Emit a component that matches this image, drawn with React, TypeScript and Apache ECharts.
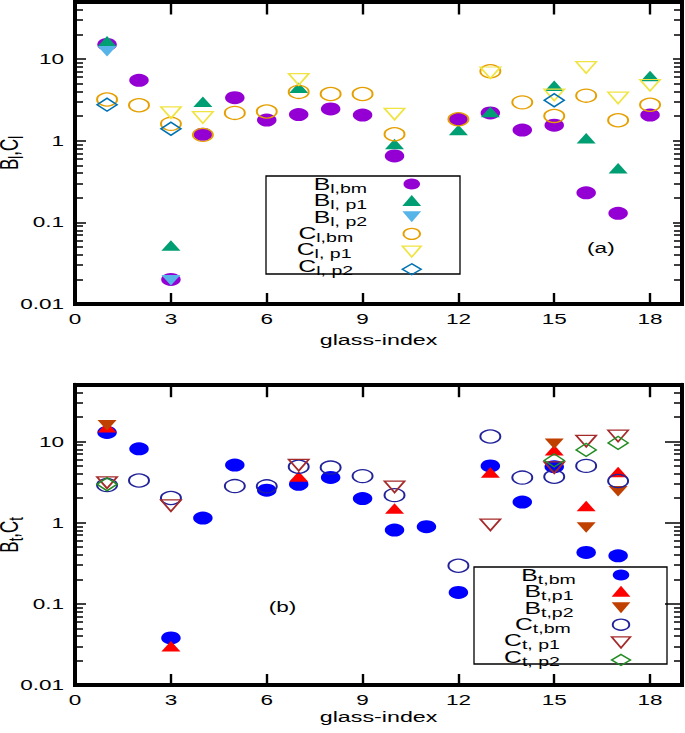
import React, { useEffect, useRef } from "react";
import * as echarts from "echarts";

// ---------------- data ----------------
const glassIndex = [1, 2, 3, 4, 5, 6, 7, 8, 9, 10, 11, 12, 13, 14, 15, 16, 17, 18];

const xTickValues = [0, 3, 6, 9, 12, 15, 18];
const xTickLabels = ["0", "3", "6", "9", "12", "15", "18"];
const yDecades = [0.01, 0.1, 1, 10];
const yTickLabels = ["0.01", "0.1", "1", "10"];
const yMinorTicks = [0.02, 0.03, 0.04, 0.05, 0.06, 0.07, 0.08, 0.09, 0.2, 0.3, 0.4, 0.5, 0.6, 0.7, 0.8, 0.9, 2, 3, 4, 5, 6, 7, 8, 9, 20, 30, 40];

// panel (a)
const Bl_bm = [15.1, 5.5, 0.02, 1.2, 3.36, 1.79, 2.09, 2.45, 2.06, 0.65, null, 1.83, 2.19, 1.35, 1.55, 0.23, 0.129, 2.06];
const Bl_p1 = [16.5, null, 0.052, 3.0, null, null, 4.45, null, null, 0.91, null, 1.35, 2.24, null, 4.7, 1.07, 0.46, 6.2];
const Bl_p2 = [12.5, null, 0.0195, null, null, null, null, null, null, null, null, null, null, null, null, null, null, null];
const Cl_bm = [3.2, 2.72, 1.61, 1.18, 2.19, 2.28, 3.96, 3.73, 3.73, 1.2, null, 1.83, 7.1, 2.95, 2.01, 3.56, 1.78, 2.76];
const Cl_p1 = [null, null, 2.21, 1.93, null, null, 5.65, null, null, 2.12, null, null, 6.8, null, 3.64, 7.9, 3.34, 4.78];
const Cl_p2 = [2.76, null, 1.4, null, null, null, null, null, null, null, null, null, null, null, 3.13, null, null, null];

// panel (b)
const Bt_bm = [12.9, 8.1, 0.038, 1.14, 5.12, 2.51, 2.97, 3.6, 1.98, 0.81, 0.89, 0.138, 4.99, 1.79, 4.88, 0.43, 0.39, null];
const Bt_p1 = [15.0, null, 0.03, null, null, null, 3.7, null, null, 1.49, null, null, 4.14, null, 7.8, 1.6, 4.2, null];
const Bt_p2 = [15.8, null, null, null, null, null, null, null, null, null, null, null, null, null, 9.4, 0.87, 2.43, null];
const Ct_bm = [2.9, 3.3, 2.01, null, 2.82, 2.8, 4.88, 4.77, 3.74, 2.18, null, 0.294, 11.5, 3.59, 3.67, 5.0, 3.26, null];
const Ct_p1 = [3.11, null, 1.62, null, null, null, 5.12, null, null, 2.76, null, null, 0.94, null, 4.77, 10.1, 11.7, null];
const Ct_p2 = [2.97, null, null, null, null, null, null, null, null, null, null, null, null, null, 5.84, 7.87, 9.6, null];

const namesA = ["B_l,bm", "B_l, p1", "B_l, p2", "C_l,bm", "C_l, p1", "C_l, p2"];
const namesB = ["B_t,bm", "B_t,p1", "B_t,p2", "C_t,bm", "C_t, p1", "C_t, p2"];
const mainA = ["B", "B", "B", "C", "C", "C"];
const subA = ["l,bm", "l, p1", "l, p2", "l,bm", "l, p1", "l, p2"];
const mainB = ["B", "B", "B", "C", "C", "C"];
const subB = ["t,bm", "t,p1", "t,p2", "t,bm", "t, p1", "t, p2"];

// ---------------- layout / style ----------------
const FULL_W = 685;
const W = 456; // drawing width, stretched horizontally to FULL_W
const H = 733;
const SX = FULL_W / W;
const FONT = "Liberation Sans";
const LOG_MIN = Math.log10(0.01);
const LOG_MAX = Math.log10(50);
const DOWN_TRI = "path://M0,0L20,0L10,17Z";

type Sty = { symbol: string; size: number[]; rotate: number; fill: string; stroke: string; bw: number };
const CLEAR = "rgba(0,0,0,0)";
const stylesA: Sty[] = [
  { symbol: "circle", size: [13, 13], rotate: 0, fill: "#9400D3", stroke: "#9400D3", bw: 0 },
  { symbol: "triangle", size: [12.7, 10.5], rotate: 0, fill: "#009E73", stroke: "#009E73", bw: 0 },
  { symbol: "triangle", size: [12.7, 10.5], rotate: 180, fill: "#56B4E9", stroke: "#56B4E9", bw: 0 },
  { symbol: "circle", size: [13.3, 13], rotate: 0, fill: CLEAR, stroke: "#E69F00", bw: 1.3 },
  { symbol: "triangle", size: [13.5, 11.5], rotate: 180, fill: CLEAR, stroke: "#F0E442", bw: 1.3 },
  { symbol: "diamond", size: [13.3, 13], rotate: 0, fill: CLEAR, stroke: "#0072B2", bw: 1.3 },
];
const stylesB: Sty[] = [
  { symbol: "circle", size: [13, 13], rotate: 0, fill: "#0000FF", stroke: "#0000FF", bw: 0 },
  { symbol: "triangle", size: [12.7, 10.5], rotate: 0, fill: "#FF0000", stroke: "#FF0000", bw: 0 },
  { symbol: "triangle", size: [12.7, 10.5], rotate: 180, fill: "#C04000", stroke: "#C04000", bw: 0 },
  { symbol: "circle", size: [13.3, 13], rotate: 0, fill: CLEAR, stroke: "#22229A", bw: 1.3 },
  { symbol: "triangle", size: [13.5, 11.5], rotate: 180, fill: CLEAR, stroke: "#A52A2A", bw: 1.3 },
  { symbol: "diamond", size: [13.3, 13], rotate: 0, fill: CLEAR, stroke: "#228B22", bw: 1.3 },
];
// legend label placement (drawing coords): right edge of label text, row centres
const labelRightA = [244.4, 244.4, 244.4, 235.1, 234, 235.1];
const rowYA = [184, 200.4, 216.8, 233.2, 249.6, 266];
const labelRightB = [383.3, 381.8, 381.8, 380, 372.7, 372.7];
const rowYB = [575, 591.3, 607.7, 624, 640.4, 656.7];

function pairs(vals: (number | null)[]) {
  return glassIndex.map((g, i) => [g, vals[i]]).filter((p) => p[1] != null);
}

function makeSeries(k: number, names: string[], vals: (number | null)[][], sty: Sty[]) {
  return names.map((name, i) => ({
    type: "scatter",
    name,
    xAxisIndex: k * 2,
    yAxisIndex: k,
    data: pairs(vals[i]),
    symbol: sty[i].symbol,
    symbolSize: sty[i].size,
    symbolRotate: sty[i].rotate,
    itemStyle: { color: sty[i].fill, borderColor: sty[i].stroke, borderWidth: sty[i].bw, opacity: 1 },
    emphasis: { disabled: true },
  }));
}

// ---------- main (stretched) chart: scales, labels, names, marks, legend ----------
function makeX(k: number, pos: string, nameGap: number) {
  const bottom = pos === "bottom";
  const o: any = {
    type: "value",
    gridIndex: k,
    position: pos,
    min: 0,
    max: 19,
    interval: 3,
    axisLine: { show: false, onZero: false },
    axisTick: { show: false },
    axisLabel: {
      show: bottom,
      margin: 7,
      fontSize: 15,
      fontFamily: FONT,
      color: "#000",
      formatter: (v: number) => {
        const i = xTickValues.indexOf(v);
        return i >= 0 ? xTickLabels[i] : "";
      },
    },
    splitLine: { show: false },
  };
  if (bottom) {
    o.name = "glass-index";
    o.nameLocation = "middle";
    o.nameGap = nameGap;
    o.nameMoveOverlap = false;
    o.nameTextStyle = { fontSize: 15.5, fontFamily: FONT, color: "#000" };
  }
  return o;
}

const nameRich = {
  b: { fontSize: 17, lineHeight: 20, fontFamily: FONT, color: "#000" },
  s: { fontSize: 13, lineHeight: 12, padding: [10, 0, 0, 0], fontFamily: FONT, color: "#000" },
};

function makeYMain(k: number, name: string, nameGap: number) {
  return {
    type: "log",
    gridIndex: k,
    position: "left",
    min: 0.01,
    max: 50,
    axisLine: { show: false, onZero: false },
    axisTick: { show: false },
    axisLabel: {
      margin: 7.4,
      fontSize: 15,
      fontFamily: FONT,
      color: "#000",
      formatter: (v: number) => {
        const i = yDecades.findIndex((d) => Math.abs(Math.log10(v) - Math.log10(d)) < 1e-6);
        return i >= 0 ? yTickLabels[i] : "";
      },
    },
    splitLine: { show: false },
    name,
    nameLocation: "middle",
    nameGap,
    nameMoveOverlap: false,
    nameTextStyle: { rich: nameRich },
  };
}

const labelRich = {
  b: { fontSize: 16.5, lineHeight: 11, fontFamily: FONT, color: "#000" },
  s: { fontSize: 13, lineHeight: 2, padding: [9, 0, 0, 0], fontFamily: FONT, color: "#000" },
};

function makeLegend(names: string[], sty: Sty[], pos: any) {
  return {
    orient: "vertical",
    align: "right",
    ...pos,
    padding: 0,
    itemWidth: 12.5,
    itemHeight: 11,
    symbolKeepAspect: false,
    selectedMode: false,
    data: names.map((n, i) => ({
      name: n,
      icon: sty[i].rotate === 180 ? DOWN_TRI : sty[i].symbol,
      itemStyle: { color: sty[i].fill, borderColor: sty[i].stroke, borderWidth: sty[i].bw },
    })),
    formatter: () => "",
  };
}

function legendLabels(main: string[], sub: string[], right: number[], rows: number[]) {
  return main.map((m, i) => ({
    type: "text",
    x: right[i],
    y: rows[i],
    z: 10,
    style: { text: `{b|${m}}{s|${sub[i]}}`, rich: labelRich, fill: "#000", align: "right", verticalAlign: "middle" },
  }));
}

const mainOption: any = {
  animation: false,
  grid: [
    { left: 50, right: 2, top: 2, height: 302, containLabel: false, outerBoundsMode: "none" },
    { left: 50, right: 2, top: 384.7, height: 300.3, containLabel: false, outerBoundsMode: "none" },
  ],
  xAxis: [makeX(0, "bottom", 28), makeX(0, "top", 0), makeX(1, "bottom", 24), makeX(1, "top", 0)],
  yAxis: [makeYMain(0, "{b|B}{s|l}{b|,C}{s|l}", 34), makeYMain(1, "{b|B}{s|t}{b|,C}{s|t}", 34)],
  legend: [
    makeLegend(namesA, stylesA, { right: 175, top: 178.5, itemGap: 5.4 }),
    makeLegend(namesB, stylesB, { right: 35.7, top: 569.5, itemGap: 5.34 }),
  ],
  graphic: [
    ...legendLabels(mainA, subA, labelRightA, rowYA),
    ...legendLabels(mainB, subB, labelRightB, rowYB),
    { type: "text", x: 400, y: 248, style: { text: "(a)", fontSize: 15, fontFamily: FONT, fill: "#000", align: "center", verticalAlign: "middle" } },
    { type: "text", x: 188, y: 607, style: { text: "(b)", fontSize: 15, fontFamily: FONT, fill: "#000", align: "center", verticalAlign: "middle" } },
  ],
  series: [
    ...makeSeries(0, namesA, [Bl_bm, Bl_p1, Bl_p2, Cl_bm, Cl_p1, Cl_p2], stylesA),
    ...makeSeries(1, namesB, [Bt_bm, Bt_p1, Bt_p2, Ct_bm, Ct_p1, Ct_p2], stylesB),
  ],
};

// ---------- frame chart (unstretched, full width): borders, ticks, legend boxes ----------
function frameX(k: number, pos: string) {
  return {
    type: "value",
    gridIndex: k,
    position: pos,
    min: 0,
    max: 19,
    interval: 3,
    axisLine: { show: true, onZero: false, lineStyle: { color: "#000", width: 4, cap: "square" } },
    axisTick: { show: true, inside: true, length: pos === "bottom" ? 11 : 12.5, lineStyle: { color: "#000", width: 2.4 } },
    axisLabel: { show: false },
    splitLine: { show: false },
  };
}
function frameY(k: number, pos: string, vals: number[], length: number, line: boolean) {
  return {
    type: "value",
    gridIndex: k,
    position: pos,
    offset: 0,
    min: LOG_MIN,
    max: LOG_MAX,
    axisLine: { show: line, onZero: false, lineStyle: { color: "#000", width: 4 } },
    axisTick: {
      show: true,
      inside: true,
      length,
      customValues: vals.map((v) => Math.log10(v)),
      lineStyle: { color: "#000", width: 1.5 },
    },
    axisLabel: { show: false },
    splitLine: { show: false },
  };
}
const frameYs: any[] = [];
for (let k = 0; k < 2; k++) {
  frameYs.push(frameY(k, "left", yDecades, 11, true));
  frameYs.push(frameY(k, "left", yMinorTicks, 8, false));
  frameYs.push(frameY(k, "right", yDecades, k === 0 ? 9 : 17, true));
  frameYs.push(frameY(k, "right", yMinorTicks, 8, false));
}
const frameOption: any = {
  animation: false,
  grid: [
    { left: 75, right: 3, top: 2, height: 302, containLabel: false, outerBoundsMode: "none" },
    { left: 75, right: 3, top: 384.7, height: 300.3, containLabel: false, outerBoundsMode: "none" },
  ],
  xAxis: [frameX(0, "bottom"), frameX(0, "top"), frameX(1, "bottom"), frameX(1, "top")],
  yAxis: frameYs,
  graphic: [
    { type: "rect", shape: { x: 266, y: 176, width: 194, height: 98 }, style: { fill: "none", stroke: "#000", lineWidth: 1.3 } },
    { type: "rect", shape: { x: 474, y: 567, width: 193, height: 97 }, style: { fill: "none", stroke: "#000", lineWidth: 1.3 } },
  ],
};

export default function App() {
  const frameRef = useRef<HTMLDivElement>(null);
  const mainRef = useRef<HTMLDivElement>(null);
  useEffect(() => {
    document.body.style.margin = "0";
    const frame = echarts.init(frameRef.current!, null, { renderer: "svg" });
    frame.setOption(frameOption);
    const chart = echarts.init(mainRef.current!, null, { renderer: "svg" });
    chart.setOption(mainOption);
    return () => {
      chart.dispose();
      frame.dispose();
    };
  }, []);
  return (
    <div style={{ width: FULL_W, height: H, overflow: "hidden" }}>
      <div ref={frameRef} style={{ width: FULL_W, height: H }} />
      <div
        ref={mainRef}
        style={{ width: W, height: H, marginTop: -H, transform: `scaleX(${SX})`, transformOrigin: "0 0" }}
      />
    </div>
  );
}
